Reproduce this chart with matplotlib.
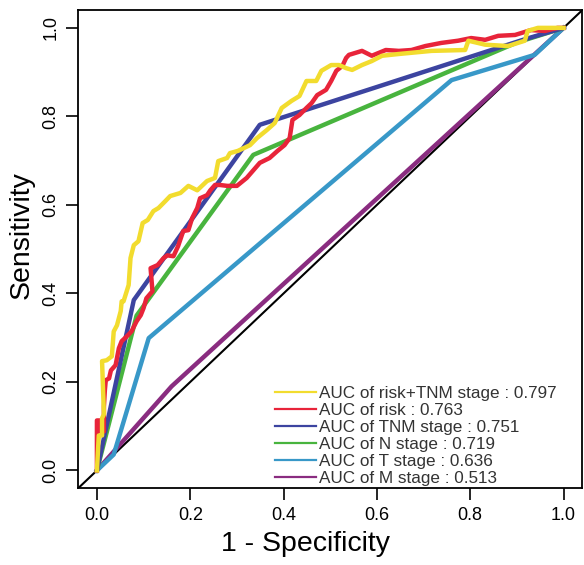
import matplotlib
matplotlib.use('Agg')
import matplotlib.pyplot as plt

plt.rcParams['font.family'] = ['Liberation Sans', 'DejaVu Sans']

# ROC points (1 - specificity, sensitivity)
risk_tnm_fpr = [0, 0.004, 0.011, 0.011, 0.015, 0.011, 0.021, 0.032, 0.036, 0.043, 0.051, 0.053,
                0.057, 0.068, 0.072, 0.079, 0.089, 0.098, 0.109, 0.121, 0.132, 0.147, 0.157,
                0.179, 0.196, 0.215, 0.236, 0.253, 0.260, 0.279, 0.285, 0.302, 0.328, 0.343,
                0.364, 0.381, 0.396, 0.417, 0.434, 0.449, 0.470, 0.481, 0.502, 0.519, 0.534,
                0.547, 0.568, 0.589, 0.611, 0.647, 0.717, 0.789, 0.796, 0.832, 0.881, 0.917,
                0.923, 0.945, 0.981, 1.0]
risk_tnm_tpr = [0, 0.079, 0.079, 0.118, 0.127, 0.247, 0.249, 0.258, 0.314, 0.328, 0.360, 0.382,
                0.382, 0.419, 0.480, 0.509, 0.518, 0.559, 0.566, 0.586, 0.593, 0.609, 0.620,
                0.627, 0.643, 0.633, 0.654, 0.661, 0.699, 0.706, 0.717, 0.722, 0.735, 0.751,
                0.769, 0.785, 0.819, 0.835, 0.846, 0.880, 0.880, 0.903, 0.916, 0.916, 0.909,
                0.905, 0.916, 0.925, 0.937, 0.941, 0.948, 0.950, 0.971, 0.962, 0.959, 0.971,
                0.993, 1.0, 1.0, 1.0]

risk_fpr = [0, 0, 0.008, 0.008, 0.015, 0.015, 0.017, 0.019, 0.026, 0.030, 0.040, 0.047, 0.053,
            0.064, 0.074, 0.085, 0.094, 0.100, 0.106, 0.119, 0.115, 0.130, 0.143, 0.151, 0.164,
            0.174, 0.185, 0.196, 0.204, 0.215, 0.221, 0.236, 0.243, 0.253, 0.264, 0.279, 0.300,
            0.321, 0.349, 0.370, 0.387, 0.402, 0.413, 0.419, 0.434, 0.449, 0.460, 0.472, 0.491,
            0.502, 0.513, 0.526, 0.534, 0.540, 0.568, 0.589, 0.619, 0.647, 0.674, 0.704, 0.738,
            0.774, 0.802, 0.832, 0.860, 0.896, 0.930, 0.960, 0.987, 1.0]
risk_tpr = [0, 0.113, 0.113, 0.088, 0.088, 0.145, 0.181, 0.204, 0.208, 0.226, 0.238, 0.276, 0.292,
            0.303, 0.314, 0.337, 0.351, 0.367, 0.389, 0.405, 0.457, 0.464, 0.480, 0.486, 0.484,
            0.507, 0.541, 0.543, 0.570, 0.593, 0.615, 0.622, 0.633, 0.645, 0.645, 0.643, 0.643,
            0.661, 0.695, 0.706, 0.722, 0.735, 0.751, 0.792, 0.803, 0.819, 0.830, 0.848, 0.860,
            0.880, 0.903, 0.914, 0.932, 0.939, 0.948, 0.937, 0.950, 0.948, 0.950, 0.959, 0.966,
            0.971, 0.977, 0.973, 0.982, 0.984, 0.995, 0.993, 1.0, 1.0]

tnm_fpr = [0, 0.079, 0.349, 0.916, 1.0]
tnm_tpr = [0, 0.385, 0.781, 0.974, 1.0]

n_fpr = [0, 0.085, 0.335, 0.900, 1.0]
n_tpr = [0, 0.350, 0.713, 0.967, 1.0]

t_fpr = [0, 0.036, 0.111, 0.760, 0.938, 1.0]
t_tpr = [0, 0.036, 0.299, 0.882, 0.939, 1.0]

m_fpr = [0, 0.160, 1.0]
m_tpr = [0, 0.190, 1.0]

labels = ['AUC of risk+TNM stage : 0.797', 'AUC of risk : 0.763', 'AUC of TNM stage : 0.751',
          'AUC of N stage : 0.719', 'AUC of T stage : 0.636', 'AUC of M stage : 0.513']
colors = ['#F2DC2E', '#E8243A', '#3C44A0', '#48B43E', '#3898C8', '#8A2C80']

curves = [(risk_tnm_fpr, risk_tnm_tpr), (risk_fpr, risk_tpr), (tnm_fpr, tnm_tpr),
          (n_fpr, n_tpr), (t_fpr, t_tpr), (m_fpr, m_tpr)]

fig = plt.figure(figsize=(5.84, 5.65), dpi=100)
ax = fig.add_axes([0.134, 0.136, 0.863, 0.846])

# diagonal reference line across the whole box
ax.plot([-0.04, 1.04], [-0.04, 1.04], color='black', linewidth=1.5, zorder=1)

# draw in reverse so risk+TNM ends up on top
lines = []
for i in range(len(curves) - 1, -1, -1):
    fpr, tpr = curves[i]
    ln, = ax.plot(fpr, tpr, color=colors[i], linewidth=3.2, label=labels[i], zorder=2 + len(curves) - i)
    lines.append(ln)
lines = lines[::-1]

leg = ax.legend(lines, labels, loc='lower right', bbox_to_anchor=(0.97, -0.016), frameon=False,
                fontsize=12.3, handlelength=2.4, handletextpad=0.2, labelspacing=0.11,
                borderaxespad=0.2)
for lh in leg.get_lines():
    lh.set_linewidth(1.6)
for t in leg.get_texts():
    t.set_color('#333333')

ax.set_xlim(-0.04, 1.04)
ax.set_ylim(-0.04, 1.04)
ticks = [0.0, 0.2, 0.4, 0.6, 0.8, 1.0]
ax.set_xticks(ticks)
ax.set_yticks(ticks)
ax.set_xticklabels(['0.0', '0.2', '0.4', '0.6', '0.8', '1.0'])
ax.set_yticklabels(['0.0', '0.2', '0.4', '0.6', '0.8', '1.0'])
plt.setp(ax.get_yticklabels(), rotation=90, va='center')
ax.tick_params(axis='both', direction='out', length=8.5, width=1.2, labelsize=13, pad=5)
for s in ax.spines.values():
    s.set_linewidth(1.3)

ax.set_xlabel('1 - Specificity', fontsize=20.5)
ax.set_ylabel('Sensitivity', fontsize=20.5)
ax.xaxis.set_label_coords(0.45, -0.09)
ax.yaxis.set_label_coords(-0.087, 0.529)

fig.savefig('out.png', dpi=100)
